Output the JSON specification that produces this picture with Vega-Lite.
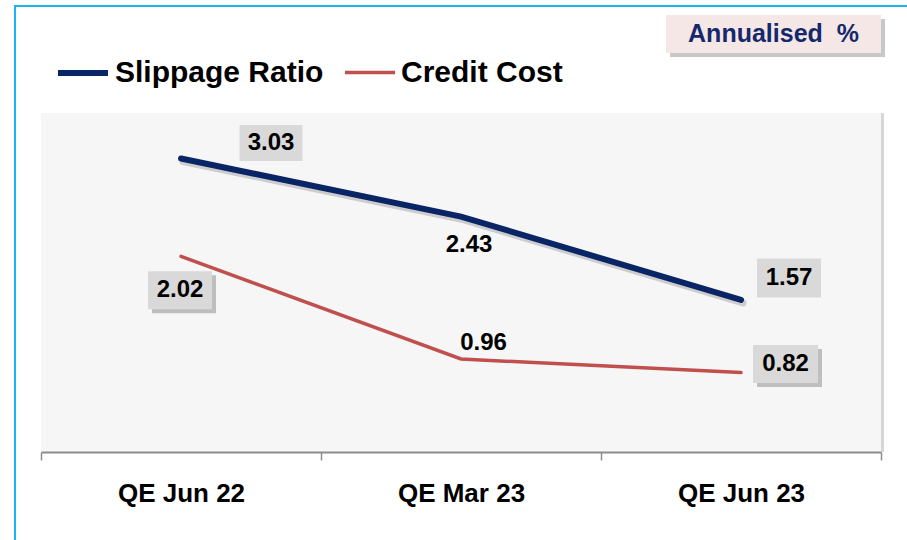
{
  "$schema": "https://vega.github.io/schema/vega-lite/v6.json",
  "width": 900,
  "height": 540,
  "autosize": {"type": "none"},
  "padding": {"left": 15, "top": 6, "right": 0, "bottom": 0},
  "background": "white",
  "config": {
    "font": "Liberation Sans",
    "view": {"stroke": "#1BB4F2", "strokeWidth": 2}
  },
  "data": {
    "values": [
      {"series": "Slippage Ratio", "period": "QE Jun 22", "value": 3.03},
      {"series": "Slippage Ratio", "period": "QE Mar 23", "value": 2.43},
      {"series": "Slippage Ratio", "period": "QE Jun 23", "value": 1.57},
      {"series": "Credit Cost", "period": "QE Jun 22", "value": 2.02},
      {"series": "Credit Cost", "period": "QE Mar 23", "value": 0.96},
      {"series": "Credit Cost", "period": "QE Jun 23", "value": 0.82}
    ]
  },
  "encoding": {
    "x": {
      "field": "period",
      "type": "nominal",
      "sort": ["QE Jun 22", "QE Mar 23", "QE Jun 23"],
      "scale": {"type": "band", "range": [26, 866], "paddingInner": 0, "paddingOuter": 0},
      "axis": {
        "title": null,
        "orient": "bottom",
        "offset": -94,
        "domainColor": "#8c8c8c",
        "domainWidth": 2,
        "tickColor": "#8c8c8c",
        "tickWidth": 1.5,
        "tickSize": 8,
        "tickBand": "extent",
        "labelFontSize": 26,
        "labelFontWeight": "bold",
        "labelColor": "black",
        "labelPadding": 20,
        "labelAngle": 0,
        "grid": false
      }
    },
    "y": {
      "field": "value",
      "type": "quantitative",
      "scale": {"domain": [0, 3.5], "range": [446, 107], "nice": false, "zero": false},
      "axis": null
    }
  },
  "layer": [
    {
      "transform": [{"filter": "datum.series == 'Slippage Ratio'"}],
      "mark": {"type": "rect", "fill": "#d6d6d6", "xOffset": 3},
      "encoding": {"y": {"datum": 0, "type": "quantitative"}, "y2": {"datum": 3.5}}
    },
    {
      "transform": [{"filter": "datum.series == 'Slippage Ratio'"}],
      "mark": {"type": "rect", "fill": "#f6f6f6"},
      "encoding": {"y": {"datum": 0, "type": "quantitative"}, "y2": {"datum": 3.5}}
    },
    {
      "transform": [{"filter": "datum.series == 'Slippage Ratio'"}],
      "mark": {"type": "line", "stroke": "#555555", "opacity": 0.25, "strokeWidth": 7, "xOffset": 2, "yOffset": 3, "strokeCap": "round"},
      "encoding": {}
    },
    {
      "mark": {"type": "line", "strokeCap": "round"},
      "encoding": {
        "color": {
          "field": "series",
          "type": "nominal",
          "scale": {"domain": ["Slippage Ratio", "Credit Cost"], "range": ["#0a2565", "#c0504d"]},
          "legend": {
            "title": null,
            "orient": "none",
            "direction": "horizontal",
            "legendX": 40,
            "legendY": 39,
            "symbolType": "stroke",
            "symbolSize": 2500,
            "symbolStrokeWidth": 5,
            "labelFontSize": 30,
            "labelFontWeight": "bold",
            "labelColor": "black",
            "labelOffset": 4,
            "labelLimit": 400,
            "columnPadding": 14
          }
        },
        "strokeWidth": {
          "field": "series",
          "type": "nominal",
          "scale": {"domain": ["Slippage Ratio", "Credit Cost"], "range": [6, 3.5]},
          "legend": null
        }
      }
    },
    {
      "transform": [{"filter": "datum.series == 'Slippage Ratio' && datum.period == 'QE Jun 22'"}],
      "layer": [
        {"mark": {"type": "point", "shape": "M-1,-0.571H1V0.571H-1Z", "size": 3969, "filled": true, "fill": "#d9d9d9", "opacity": 1, "xOffset": 90, "yOffset": -15.5}},
        {"mark": {"type": "text", "fontSize": 24, "fontWeight": "bold", "color": "black", "xOffset": 90, "yOffset": -15.5, "baseline": "middle"}, "encoding": {"text": {"field": "value", "type": "quantitative", "format": ".2f"}}}
      ]
    },
    {
      "transform": [{"filter": "datum.series == 'Slippage Ratio' && datum.period == 'QE Mar 23'"}],
      "mark": {"type": "text", "fontSize": 24, "fontWeight": "bold", "color": "black", "xOffset": 8, "yOffset": 28, "baseline": "middle"},
      "encoding": {"text": {"field": "value", "type": "quantitative", "format": ".2f"}}
    },
    {
      "transform": [{"filter": "datum.series == 'Slippage Ratio' && datum.period == 'QE Jun 23'"}],
      "layer": [
        {"mark": {"type": "point", "shape": "M-1,-0.609H1V0.609H-1Z", "size": 4096, "filled": true, "fill": "#d9d9d9", "opacity": 1, "xOffset": 48, "yOffset": -22}},
        {"mark": {"type": "text", "fontSize": 24, "fontWeight": "bold", "color": "black", "xOffset": 48, "yOffset": -22, "baseline": "middle"}, "encoding": {"text": {"field": "value", "type": "quantitative", "format": ".2f"}}}
      ]
    },
    {
      "transform": [{"filter": "datum.series == 'Credit Cost' && datum.period == 'QE Jun 22'"}],
      "layer": [
        {"mark": {"type": "point", "shape": "M-1,-0.594H1V0.594H-1Z", "size": 4096, "filled": true, "fill": "#9a9a9a", "opacity": 0.6, "xOffset": 3, "yOffset": 38}},
        {"mark": {"type": "point", "shape": "M-1,-0.594H1V0.594H-1Z", "size": 4096, "filled": true, "fill": "#d9d9d9", "opacity": 1, "xOffset": -1, "yOffset": 34}},
        {"mark": {"type": "text", "fontSize": 24, "fontWeight": "bold", "color": "black", "xOffset": -1, "yOffset": 34, "baseline": "middle"}, "encoding": {"text": {"field": "value", "type": "quantitative", "format": ".2f"}}}
      ]
    },
    {
      "transform": [{"filter": "datum.series == 'Credit Cost' && datum.period == 'QE Mar 23'"}],
      "mark": {"type": "text", "fontSize": 24, "fontWeight": "bold", "color": "black", "xOffset": 22.5, "yOffset": -16.5, "baseline": "middle"},
      "encoding": {"text": {"field": "value", "type": "quantitative", "format": ".2f"}}
    },
    {
      "transform": [{"filter": "datum.series == 'Credit Cost' && datum.period == 'QE Jun 23'"}],
      "layer": [
        {"mark": {"type": "point", "shape": "M-1,-0.585H1V0.585H-1Z", "size": 4225, "filled": true, "fill": "#9a9a9a", "opacity": 0.6, "xOffset": 48.5, "yOffset": -4.5}},
        {"mark": {"type": "point", "shape": "M-1,-0.585H1V0.585H-1Z", "size": 4225, "filled": true, "fill": "#d9d9d9", "opacity": 1, "xOffset": 44.5, "yOffset": -8.5}},
        {"mark": {"type": "text", "fontSize": 24, "fontWeight": "bold", "color": "black", "xOffset": 44.5, "yOffset": -8.5, "baseline": "middle"}, "encoding": {"text": {"field": "value", "type": "quantitative", "format": ".2f"}}}
      ]
    },
    {
      "transform": [{"filter": "datum.series == 'Slippage Ratio' && datum.period == 'QE Jun 23'"}],
      "encoding": {
        "y": {"datum": 4.316, "type": "quantitative"}
      },
      "layer": [
        {"mark": {"type": "point", "shape": "M-1,-0.1767H1V0.1767H-1Z", "size": 46225, "filled": true, "fill": "#9a9a9a", "opacity": 0.55, "xOffset": 36.5, "yOffset": 4}},
        {"mark": {"type": "point", "shape": "M-1,-0.1767H1V0.1767H-1Z", "size": 46225, "filled": true, "fill": "#f6e7e7", "opacity": 1, "xOffset": 32.5, "yOffset": 0}},
        {"mark": {"type": "text", "fontSize": 25, "fontWeight": "bold", "color": "#14296b", "xOffset": 32.5, "baseline": "middle"}, "encoding": {"text": {"value": "Annualised\u00a0 %"}}}
      ]
    }
  ]
}
